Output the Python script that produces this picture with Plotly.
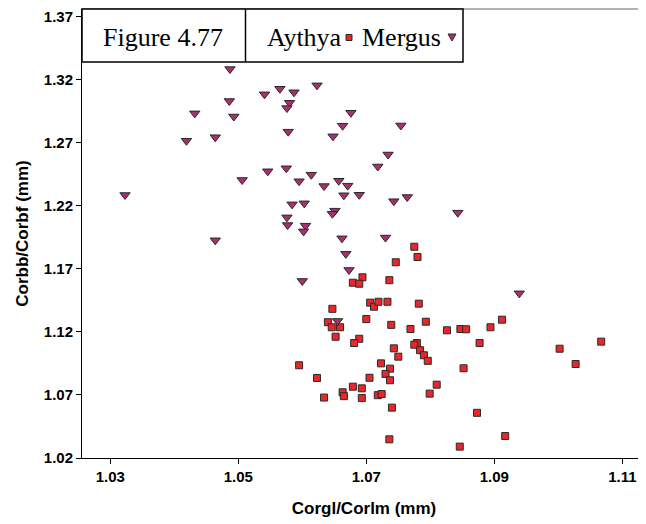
import plotly.graph_objects as go

# ---- data ----
aythya_x = [1.0775, 1.0780, 1.0746, 1.0694, 1.0679, 1.0689, 1.0736, 1.0706, 1.0712, 1.0719,
            1.0733, 1.0782, 1.0647, 1.0700, 1.0640, 1.0646, 1.0659, 1.0739, 1.0793, 1.0769,
            1.0826, 1.0847, 1.0856, 1.0894, 1.0912, 1.0652, 1.0689, 1.0681, 1.0743, 1.0750,
            1.0877, 1.0779, 1.0775, 1.0784, 1.0790, 1.0796, 1.1002, 1.1067, 1.1027, 1.0595,
            1.0723, 1.0737, 1.0730, 1.0737, 1.0852, 1.0623, 1.0705, 1.0810, 1.0799, 1.0679,
            1.0693, 1.0663, 1.0665, 1.0634, 1.0693, 1.0718, 1.0724, 1.0740, 1.0873, 1.0736,
            1.0917, 1.0846]
aythya_y = [1.1874, 1.1793, 1.1751, 1.1632, 1.1589, 1.1581, 1.1609, 1.1431, 1.1399, 1.1438,
            1.1438, 1.1423, 1.1382, 1.1301, 1.1276, 1.1236, 1.1236, 1.1255, 1.1280, 1.1222,
            1.1212, 1.1222, 1.1220, 1.1236, 1.1296, 1.1161, 1.1145, 1.1111, 1.1069, 1.1003,
            1.1111, 1.1111, 1.1098, 1.1054, 1.1014, 1.0970, 1.1066, 1.1122, 1.0945, 1.0935,
            1.0950, 1.0908, 1.0866, 1.0816, 1.0911, 1.0834, 1.0836, 1.0781, 1.0710, 1.0765,
            1.0752, 1.0721, 1.0690, 1.0679, 1.0675, 1.0698, 1.0707, 1.0599, 1.0558, 1.0348,
            1.0374, 1.0290]

mergus_x = [1.0487, 1.0486, 1.0432, 1.0493, 1.0419, 1.0464, 1.0506, 1.0323, 1.0464, 1.0623,
            1.0565, 1.0541, 1.0587, 1.0580, 1.0576, 1.0676, 1.0663, 1.0578, 1.0648, 1.0754,
            1.0734, 1.0718, 1.0546, 1.0575, 1.0595, 1.0614, 1.0634, 1.0657, 1.0671, 1.0665,
            1.0689, 1.0743, 1.0764, 1.0843, 1.0584, 1.0603, 1.0651, 1.0647, 1.0576, 1.0577,
            1.0605, 1.0602, 1.0662, 1.0730, 1.0668, 1.0673, 1.0600, 1.0655, 1.0939]
mergus_y = [1.3282, 1.3029, 1.2931, 1.2906, 1.2714, 1.2742, 1.2403, 1.2284, 1.1925, 1.3153,
            1.3126, 1.3082, 1.3098, 1.3015, 1.2973, 1.2936, 1.2833, 1.2786, 1.2749, 1.2835,
            1.2605, 1.2510, 1.2472, 1.2496, 1.2393, 1.2445, 1.2355, 1.2397, 1.2358, 1.2282,
            1.2286, 1.2235, 1.2268, 1.2144, 1.2210, 1.2218, 1.2160, 1.2136, 1.2107, 1.2046,
            1.2041, 1.1996, 1.1941, 1.1947, 1.1818, 1.1690, 1.1603, 1.1286, 1.1505]

x_ticks = [1.03, 1.05, 1.07, 1.09, 1.11]
y_ticks = [1.02, 1.07, 1.12, 1.17, 1.22, 1.27, 1.32, 1.37]
x_title = "Corgl/Corlm (mm)"
y_title = "Corbb/Corbf (mm)"
box_title = "Figure 4.77"
series_names = ["Aythya", "Mergus"]

RED = "#e8262c"
PURPLE = "#a8306e"

fig = go.Figure()
fig.add_trace(go.Scatter(
    x=aythya_x, y=aythya_y, mode="markers", name=series_names[0],
    marker=dict(symbol="square", size=7, color=RED, line=dict(color="#2a2a2a", width=1)),
    showlegend=False))
fig.add_trace(go.Scatter(
    x=mergus_x, y=mergus_y, mode="markers", name=series_names[1],
    marker=dict(symbol="triangle-down", size=9, color=PURPLE, line=dict(color="#2a2a2a", width=1)),
    showlegend=False))

tickfont = dict(family="Liberation Sans, Arial, sans-serif", size=15, color="black")
titlefont = dict(family="Liberation Sans, Arial, sans-serif", size=17, color="black")

fig.update_xaxes(
    range=[1.02558, 1.1137], tickvals=x_ticks, ticktext=[f"<b>{v:.2f}</b>" for v in x_ticks],
    ticks="outside", ticklen=5, tickcolor="black", showgrid=False, zeroline=False,
    showline=True, linecolor="black", linewidth=1, automargin=False,
    ticklabeloverflow="allow",
    tickfont=tickfont, title=dict(text="<b>" + x_title + "</b>", font=titlefont, standoff=18))
fig.update_yaxes(
    range=[1.02, 1.3758], tickvals=y_ticks, ticktext=[f"<b>{v:.2f}</b>" for v in y_ticks],
    ticks="outside", ticklen=5, tickcolor="black", showgrid=False, zeroline=False,
    showline=True, linecolor="black", linewidth=1, automargin=False,
    ticklabeloverflow="allow",
    tickfont=tickfont, title=dict(text="<b>" + y_title + "</b>", font=titlefont, standoff=10))

# page body has an 8px default margin: the figure is sized so the plot area
# lands at the same place as in the reference (left 82, top 9, right edge 646)
PW, PH = 564.0, 449.0
def px(xp):
    return (xp - 82) / PW
def py(yp):
    return (458 - yp) / PH

shapes = [
    dict(type="line", xref="paper", yref="paper", x0=0, x1=1, y0=1, y1=1,
         line=dict(color="#9a9a9a", width=1.5)),
    dict(type="rect", xref="paper", yref="paper", x0=0, x1=px(463), y0=py(62), y1=1,
         line=dict(color="black", width=1.5), fillcolor="white", layer="above"),
    dict(type="line", xref="paper", yref="paper", x0=px(245.5), x1=px(245.5), y0=py(62), y1=1,
         line=dict(color="black", width=1.5), layer="above"),
    dict(type="rect", xref="paper", yref="paper", xsizemode="pixel", ysizemode="pixel",
         xanchor=px(349), yanchor=py(37.5), x0=-3, x1=3, y0=-3, y1=3,
         fillcolor=RED, line=dict(color="#2a2a2a", width=1), layer="above"),
    dict(type="path", xref="paper", yref="paper", xsizemode="pixel", ysizemode="pixel",
         xanchor=px(452), yanchor=py(37), path="M-4,3 L4,3 L0,-4 Z",
         fillcolor=PURPLE, line=dict(color="#2a2a2a", width=1), layer="above"),
]

serif = dict(family="Liberation Serif, Times New Roman, serif", size=26, color="black")
annotations = [
    dict(text=box_title, xref="paper", yref="paper", x=px(163), y=py(37),
         xanchor="center", yanchor="middle", showarrow=False, font=serif),
    dict(text=series_names[0], xref="paper", yref="paper", x=px(265), y=py(37),
         xanchor="left", yanchor="middle", showarrow=False, font=serif),
    dict(text=series_names[1], xref="paper", yref="paper", x=px(360), y=py(37),
         xanchor="left", yanchor="middle", showarrow=False, font=serif),
]

fig.update_layout(
    width=638, height=516,
    margin=dict(l=74, r=0, t=1, b=66),
    plot_bgcolor="white", paper_bgcolor="white",
    shapes=shapes, annotations=annotations,
    showlegend=False,
)

fig.write_html("out.html")
